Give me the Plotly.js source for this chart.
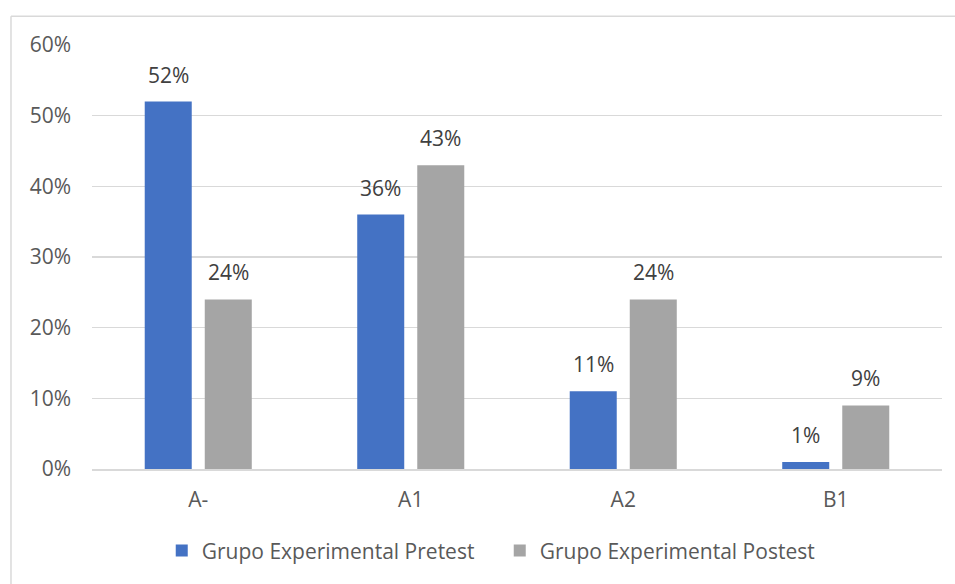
<!DOCTYPE html>
<html>
<head>
<meta charset="utf-8">
<script src="https://cdn.plot.ly/plotly-3.0.1.min.js"></script>
<style>html,body{margin:0;padding:0;background:#fff;}#chart{width:955px;height:584px;}</style>
</head>
<body>
<div id="chart"></div>
<script>
const categories = ["A-", "A1", "A2", "B1"];
const pretestName = "Grupo Experimental Pretest";
const postestName = "Grupo Experimental Postest";
const pretest = [0.52, 0.36, 0.11, 0.01];
const postest = [0.24, 0.43, 0.24, 0.09];
const yTicks = [0, 0.1, 0.2, 0.3, 0.4, 0.5, 0.6];

const FONT = "'Open Sans', 'Noto Sans', sans-serif";
const TXT = "#595959";
const FS = 21;

const traces = [
  {type: "bar", name: pretestName, x: categories, y: pretest,
   marker: {color: "#4472C4"}, hoverinfo: "none"},
  {type: "bar", name: postestName, x: categories, y: postest,
   marker: {color: "#A5A5A5"}, hoverinfo: "none"}
];

const annotations = [];
[[pretest, -30], [postest, 30]].forEach(([vals, dx]) => {
  vals.forEach((v, i) => {
    annotations.push({x: categories[i], y: v, xref: "x", yref: "y",
      text: Math.round(v * 100) + "%", showarrow: false,
      xshift: dx, yshift: 27, yanchor: "middle",
      font: {family: FONT, size: FS, color: "#404040"}});
  });
});

const layout = {
  width: 955, height: 584,
  margin: {l: 92, r: 13, t: 45, b: 115},
  paper_bgcolor: "#fff", plot_bgcolor: "#fff",
  font: {family: FONT, size: FS, color: TXT},
  barmode: "group", bargap: 0.435, bargroupgap: 0.217,
  showlegend: true,
  legend: {orientation: "h", x: 0.4797, xanchor: "center", y: -0.193, yanchor: "middle",
           font: {family: FONT, size: FS, color: TXT}, itemwidth: 30, traceorder: "normal",
           entrywidth: 293, entrywidthmode: "pixels"},
  xaxis: {type: "category", showgrid: false, showline: true, linecolor: "#D9D9D9", linewidth: 1.5,
          ticks: "", ticklabelstandoff: 11, tickfont: {family: FONT, size: FS, color: TXT}, fixedrange: true},
  yaxis: {range: [0, 0.6], tickvals: yTicks, tickformat: ".0%", showgrid: true, gridcolor: "#D9D9D9",
          gridwidth: 1.5, zeroline: false, showline: false, ticks: "", ticklabelstandoff: 20,
          tickfont: {family: FONT, size: FS, color: TXT}, fixedrange: true},
  annotations: annotations,
  shapes: [
    {type: "line", xref: "paper", yref: "paper", x0: -0.0953, x1: 1.02, y0: 1.068, y1: 1.068,
     line: {color: "#D9D9D9", width: 1.5}},
    {type: "line", xref: "paper", yref: "paper", x0: -0.0953, x1: -0.0953, y0: 1.068, y1: -0.28,
     line: {color: "#D9D9D9", width: 1.5}}
  ]
};

Plotly.newPlot("chart", traces, layout, {displayModeBar: false, staticPlot: true});
</script>
</body>
</html>
